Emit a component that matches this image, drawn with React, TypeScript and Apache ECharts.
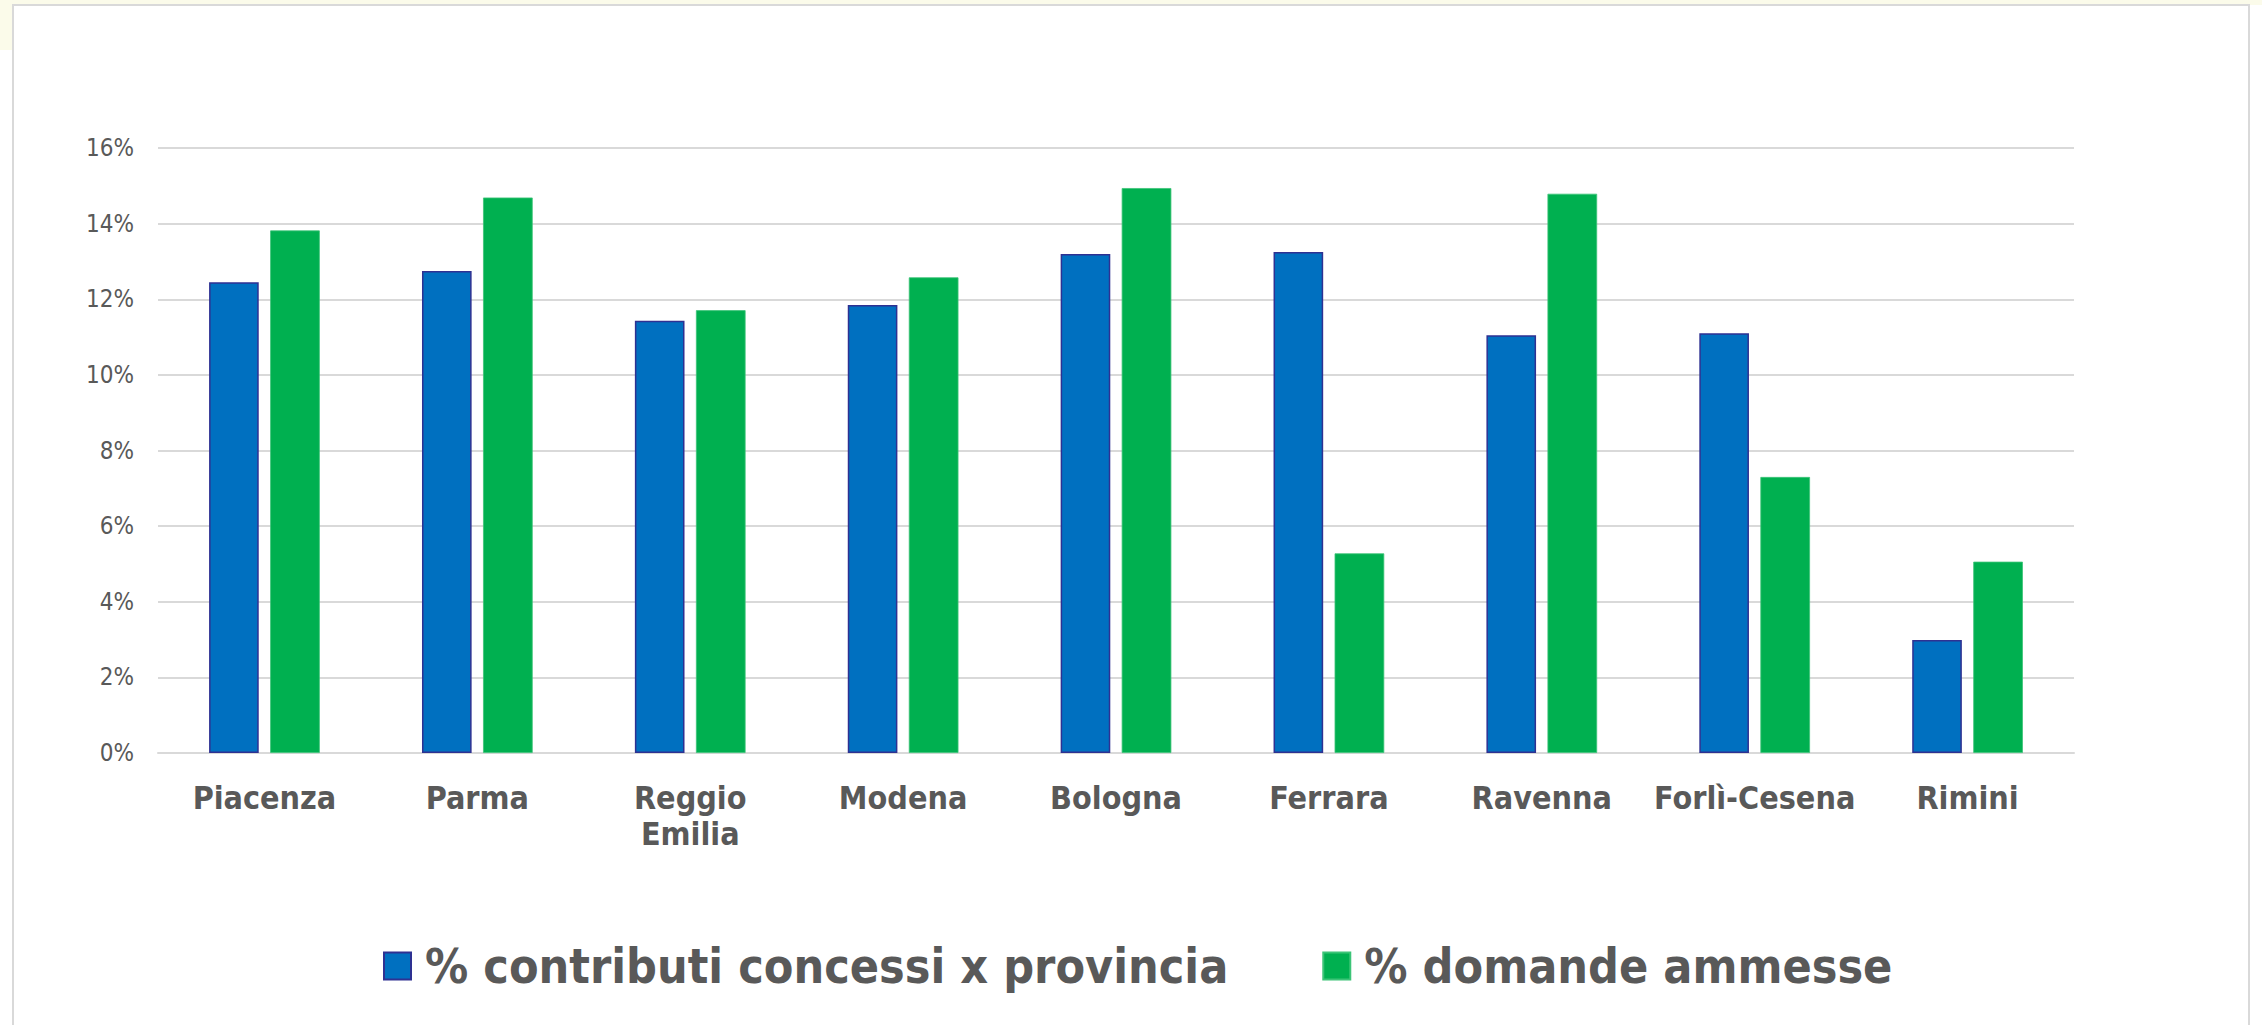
import React, { useEffect, useRef } from "react";
import * as echarts from "echarts";

const categories = [
  "Piacenza",
  "Parma",
  "Reggio\nEmilia",
  "Modena",
  "Bologna",
  "Ferrara",
  "Ravenna",
  "Forlì-Cesena",
  "Rimini",
];
const contributiConcessi = [12.45, 12.75, 11.43, 11.85, 13.2, 13.25, 11.05, 11.1, 2.99];
const domandeAmmesse = [13.82, 14.69, 11.71, 12.58, 14.94, 5.28, 14.79, 7.3, 5.06];
const seriesNames = ["% contributi concessi x provincia", "% domande ammesse"];
const yTicks = { min: 0, max: 16, interval: 2 };

const FONT = "'DejaVu Sans Condensed', 'DejaVu Sans', sans-serif";

export default function App() {
  const ref = useRef<HTMLDivElement>(null);
  useEffect(() => {
    if (!ref.current) return;
    const chart = echarts.init(ref.current, undefined, { renderer: "svg" });
    chart.setOption({
      animation: false,
      backgroundColor: "#ffffff",
      graphic: [
        { type: "rect", shape: { x: 0, y: 0, width: 2262, height: 5 }, style: { fill: "#FBFBEA" }, silent: true },
        { type: "rect", shape: { x: 0, y: 0, width: 13, height: 50 }, style: { fill: "#FBFBEA" }, silent: true },
        {
          type: "rect",
          shape: { x: 13, y: 5, width: 2236, height: 1040 },
          style: { fill: "none", stroke: "#D9D9D9", lineWidth: 2 },
          silent: true,
        },
      ],
      grid: { left: 158, right: 188, top: 148, bottom: 272, containLabel: false },
      legend: {
        data: seriesNames,
        top: 935,
        left: 378,
        itemWidth: 27,
        itemHeight: 27,
        itemGap: 94,
        icon: "rect",
        textStyle: {
          fontFamily: FONT,
          fontWeight: "bold",
          fontSize: 48,
          lineHeight: 52,
          color: "#595959",
          padding: [0, 0, 0, 9],
        },
      },
      xAxis: {
        type: "category",
        data: categories,
        axisTick: { show: false },
        axisLine: { lineStyle: { color: "#D9D9D9", width: 2 } },
        axisLabel: {
          interval: 0,
          margin: 27,
          fontFamily: FONT,
          fontWeight: "bold",
          fontSize: 32,
          lineHeight: 36,
          color: "#595959",
        },
      },
      yAxis: {
        type: "value",
        min: yTicks.min,
        max: yTicks.max,
        interval: yTicks.interval,
        axisLine: { show: false },
        axisTick: { show: false },
        splitLine: { lineStyle: { color: "#D9D9D9", width: 2 } },
        axisLabel: {
          formatter: "{value}%",
          margin: 24,
          fontFamily: FONT,
          fontSize: 24,
          color: "#595959",
        },
      },
      series: [
        {
          name: seriesNames[0],
          type: "bar",
          data: contributiConcessi,
          barGap: "23%",
          barCategoryGap: "48%",
          itemStyle: { color: "#0070C0", borderColor: "#2E3192", borderWidth: 1.5 },
        },
        {
          name: seriesNames[1],
          type: "bar",
          data: domandeAmmesse,
          itemStyle: { color: "#00B050", borderColor: "#3CC477", borderWidth: 0.8 },
        },
      ],
    });
    return () => chart.dispose();
  }, []);
  return (
    <div
      ref={ref}
      style={{ position: "fixed", left: 0, top: 0, width: 2262, height: 1025 }}
    />
  );
}
